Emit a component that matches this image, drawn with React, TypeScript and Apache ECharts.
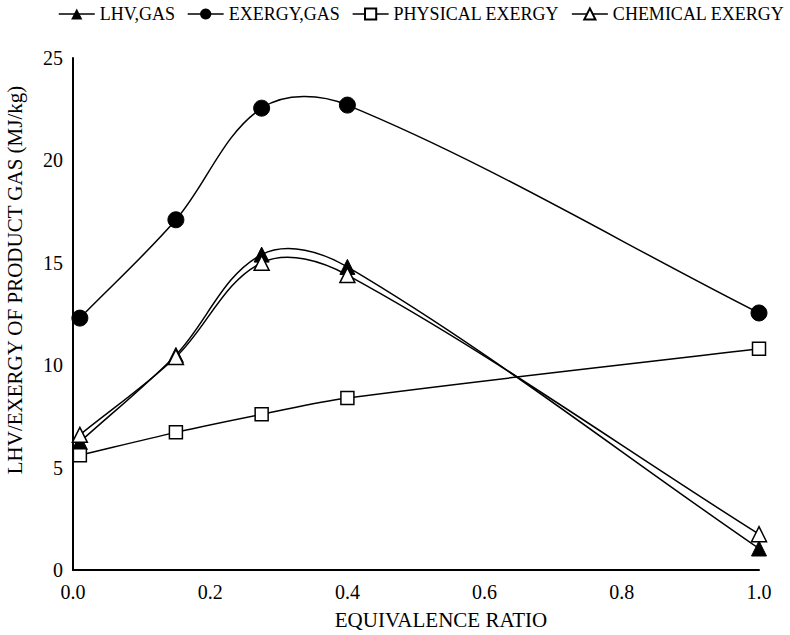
import React, { useEffect, useRef } from "react";
import * as echarts from "echarts";

const ratios = [0.01, 0.15, 0.275, 0.4, 1.0];
const lhvGas = [6.25, 10.5, 15.4, 14.8, 1.05];
const exergyGas = [12.3, 17.1, 22.55, 22.7, 12.55];
const physicalExergy = [5.6, 6.72, 7.6, 8.4, 10.8];
const chemicalExergy = [6.6, 10.4, 15.0, 14.4, 1.75];

const font = "Liberation Serif";

function pairs(ys: number[]) {
  return ratios.map((x, i) => [x, ys[i]]);
}

// spreadsheet-style smoothed line, drawn segment by segment from the data through api.coord
function curveSeries(id: string, ys: number[]) {
  return {
    type: "custom",
    name: id,
    data: pairs(ys),
    silent: true,
    z: 1,
    renderItem: (params: any, api: any) => {
      const i = params.dataIndex;
      const n = ratios.length;
      if (i >= n - 1) return null;
      const pt = (k: number) => {
        const kk = Math.max(0, Math.min(n - 1, k));
        return api.coord([ratios[kk], ys[kk]]);
      };
      const p0 = pt(i - 1);
      const p1 = pt(i);
      const p2 = pt(i + 1);
      const p3 = pt(i + 2);
      const seg = Math.hypot(p2[0] - p1[0], p2[1] - p1[1]);
      const unit = (a: number[], b: number[]) => {
        const d = Math.hypot(b[0] - a[0], b[1] - a[1]) || 1;
        return [(b[0] - a[0]) / d, (b[1] - a[1]) / d];
      };
      const k = 1 / 3;
      const u1 = unit(p0, p2);
      const u2 = unit(p1, p3);
      return {
        type: "bezierCurve",
        shape: {
          x1: p1[0],
          y1: p1[1],
          x2: p2[0],
          y2: p2[1],
          cpx1: p1[0] + u1[0] * seg * k,
          cpy1: p1[1] + u1[1] * seg * k,
          cpx2: p2[0] - u2[0] * seg * k,
          cpy2: p2[1] - u2[1] * seg * k,
        },
        style: { stroke: "#000", lineWidth: 1.5, fill: null },
      };
    },
  };
}

export default function App() {
  const ref = useRef<HTMLDivElement>(null);
  useEffect(() => {
    const chart = echarts.init(ref.current!, null, { renderer: "svg" });
    const base = {
      type: "line",
      lineStyle: { color: "#000", width: 1.5, opacity: 0 },
      z: 3,
    };
    chart.setOption({
      animation: false,
      backgroundColor: "#fff",
      textStyle: { fontFamily: font, color: "#000" },
      legend: {
        top: 5,
        left: 58,
        padding: 0,
        itemWidth: 36,
        itemHeight: 14,
        itemGap: 12,
        lineStyle: { color: "#000", width: 1.5, opacity: 1 },
        textStyle: { fontFamily: font, fontSize: 18, color: "#000" },
        data: ["LHV,GAS", "EXERGY,GAS", "PHYSICAL EXERGY", "CHEMICAL EXERGY"],
      },
      grid: { left: 73, right: 31, top: 58, bottom: 65, containLabel: false },
      xAxis: {
        type: "value",
        min: 0,
        max: 1,
        interval: 0.2,
        axisLine: { show: true, lineStyle: { color: "#000", width: 2 } },
        axisTick: { show: false },
        splitLine: { show: false },
        axisLabel: {
          fontFamily: font,
          fontSize: 20,
          color: "#000",
          margin: 12,
          formatter: (v: number) => v.toFixed(1),
        },
      },
      yAxis: {
        type: "value",
        min: 0,
        max: 25,
        interval: 5,
        axisLine: { show: true, lineStyle: { color: "#000", width: 2 } },
        axisTick: { show: false },
        splitLine: { show: false },
        axisLabel: { fontFamily: font, fontSize: 20, color: "#000", margin: 10 },
      },
      graphic: [
        {
          type: "text",
          x: 15,
          y: 280,
          rotation: Math.PI / 2,
          style: {
            text: "LHV/EXERGY OF PRODUCT GAS (MJ/kg)",
            font: `21px ${font}`,
            fill: "#000",
            textAlign: "center",
            textVerticalAlign: "middle",
          },
        },
        {
          type: "text",
          x: 441,
          y: 620,
          style: {
            text: "EQUIVALENCE RATIO",
            font: `21px ${font}`,
            fill: "#000",
            textAlign: "center",
            textVerticalAlign: "middle",
          },
        },
      ],
      series: [
        curveSeries("c1", lhvGas),
        curveSeries("c2", exergyGas),
        curveSeries("c3", physicalExergy),
        curveSeries("c4", chemicalExergy),
        {
          ...base,
          name: "LHV,GAS",
          data: pairs(lhvGas),
          symbol: "triangle",
          symbolSize: 15,
          itemStyle: { color: "#000", borderColor: "#000" },
        },
        {
          ...base,
          name: "EXERGY,GAS",
          data: pairs(exergyGas),
          symbol: "circle",
          symbolSize: 16,
          itemStyle: { color: "#000", borderColor: "#000" },
        },
        {
          ...base,
          name: "PHYSICAL EXERGY",
          data: pairs(physicalExergy),
          symbol: "rect",
          symbolSize: 13,
          itemStyle: { color: "#fff", borderColor: "#000", borderWidth: 1.5 },
        },
        {
          ...base,
          name: "CHEMICAL EXERGY",
          data: pairs(chemicalExergy),
          symbol: "triangle",
          symbolSize: 15,
          itemStyle: { color: "#fff", borderColor: "#000", borderWidth: 1.5 },
        },
      ],
    });
    return () => chart.dispose();
  }, []);
  return (
    <div
      ref={ref}
      style={{ position: "fixed", left: 0, top: 0, width: 790, height: 635 }}
    />
  );
}
